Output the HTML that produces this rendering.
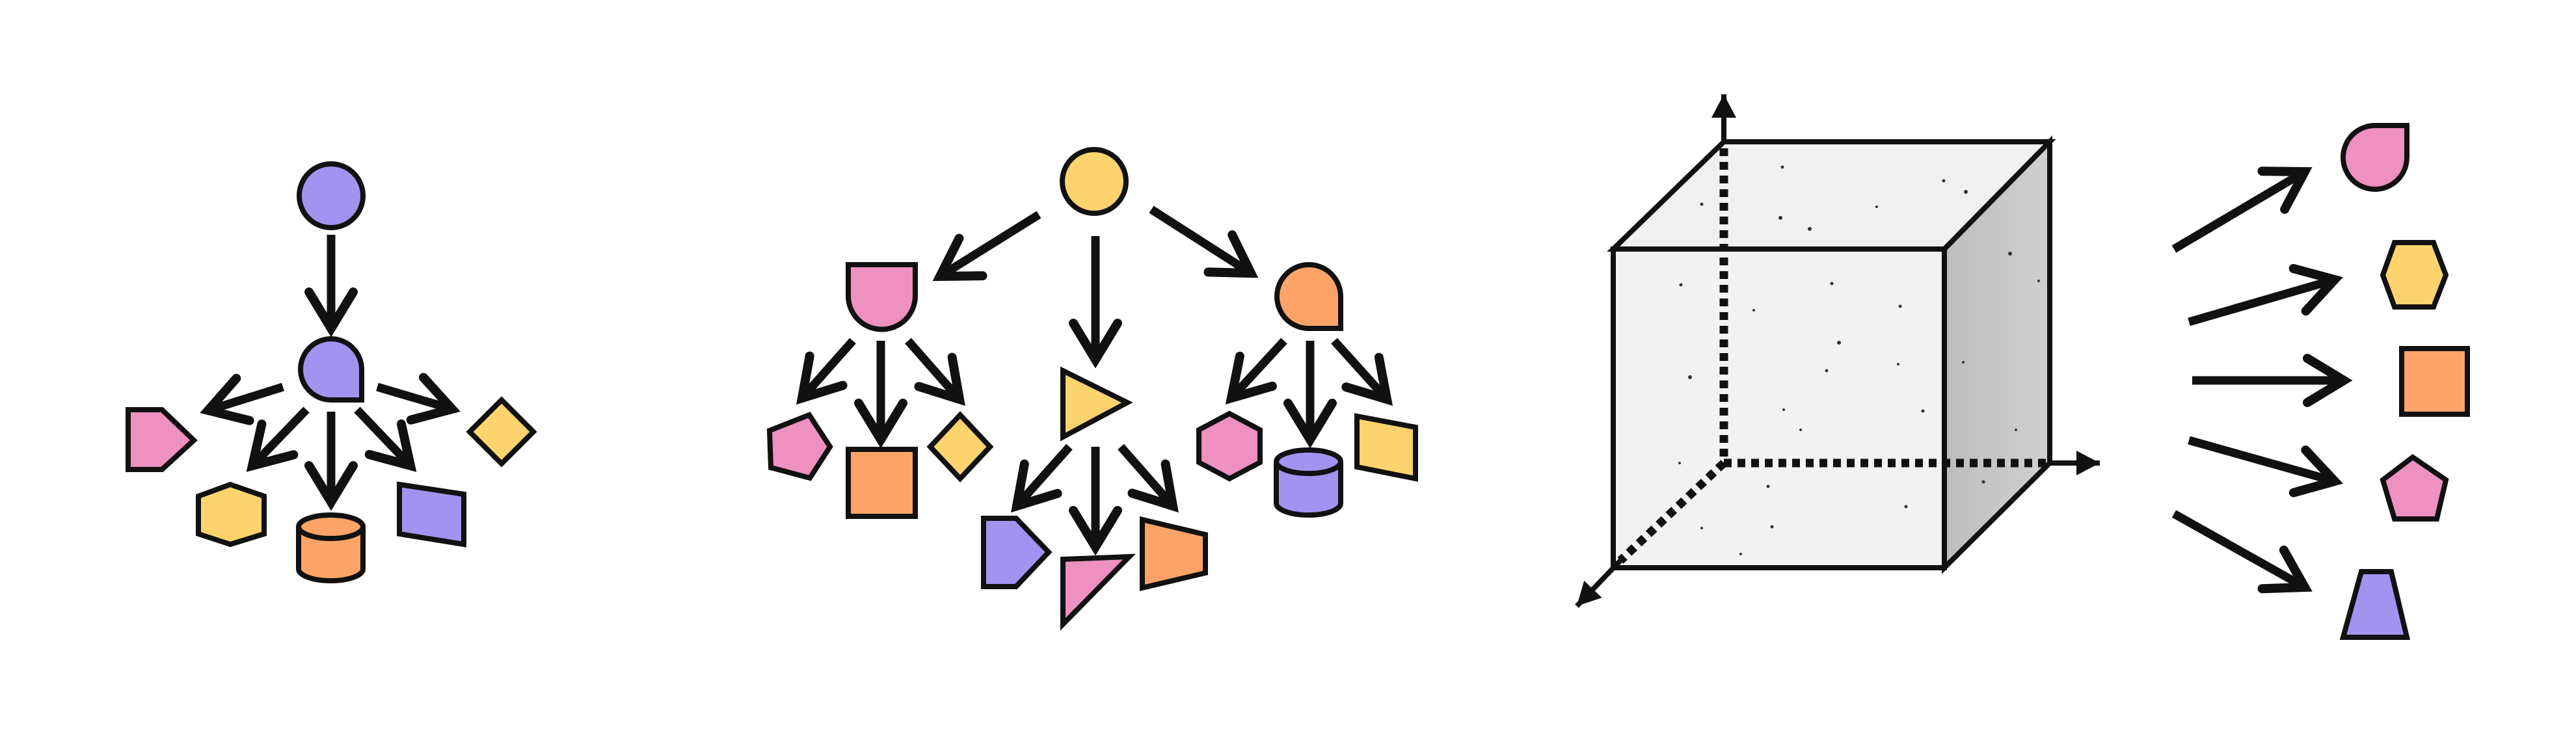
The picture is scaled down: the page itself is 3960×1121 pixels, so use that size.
<!DOCTYPE html>
<html><head><meta charset="utf-8"><style>html,body{margin:0;padding:0;background:#fff;}svg{display:block}</style></head>
<body>
<svg width="3960" height="1121" viewBox="0 0 3960 1121" xmlns="http://www.w3.org/2000/svg">
<defs>
<marker id="ah" markerUnits="userSpaceOnUse" viewBox="-75 -45 85 90" markerWidth="85" markerHeight="90" refX="0" refY="0" orient="auto" overflow="visible">
<path d="M-56,-34 L0,0 L-56,34" fill="none" stroke="#111" stroke-width="14" stroke-linecap="round" stroke-linejoin="miter"/>
</marker>
<marker id="sh" markerUnits="userSpaceOnUse" viewBox="-40 -25 50 50" markerWidth="50" markerHeight="50" refX="0" refY="0" orient="auto" overflow="visible">
<path d="M-36,-19 L0,0 L-36,19 Z" fill="#111"/>
</marker>
<linearGradient id="side" x1="0" y1="0" x2="1" y2="0"><stop offset="0" stop-color="#bdbdbd"/><stop offset="1" stop-color="#d0d0d0"/></linearGradient>
</defs>
<g stroke="#111" stroke-width="8" stroke-linejoin="miter">
<!-- Panel 1 -->
<circle cx="509" cy="301" r="49" fill="#a393f0"/>
<path d="M462,568 A47 47 0 0 1 556,568 L556,615 L509,615 A47 47 0 0 1 462,568 Z" fill="#a393f0"/>
<polygon points="197,630 249,630 298,677 249,722 197,722" fill="#ee90c0"/>
<polygon points="771,615 820,664 771,713 722,664" fill="#fdd36e"/>
<polygon points="305,763 354,745 406,763 406,821 354,837 305,821" fill="#fdd36e"/>
<path d="M459,810 L459,875 A49.5 18 0 0 0 558,875 L558,810" fill="#fca468"/>
<ellipse cx="508.5" cy="810" rx="49.5" ry="18" fill="#fca468"/>
<polygon points="614,745 713,760 713,837 614,821" fill="#a393f0"/>
<!-- Panel 2 -->
<circle cx="1682" cy="279" r="49" fill="#fdd36e"/>
<path d="M1304,407 L1407,407 L1407,455 A51.5 51.5 0 0 1 1304,455 Z" fill="#ee90c0"/>
<path d="M1963,456 A49 49 0 0 1 2061,456 L2061,505 L2012,505 A49 49 0 0 1 1963,456 Z" fill="#fca468"/>
<polygon points="1634,570 1733,619 1634,672" fill="#fdd36e"/>
<polygon points="1244,638 1276,687 1245,735 1185,719 1183,662" fill="#ee90c0"/>
<rect x="1304" y="691" width="103" height="103" fill="#fca468"/>
<polygon points="1476,638 1522,687 1476,736 1430,687" fill="#fdd36e"/>
<polygon points="1512,797 1562,797 1612,849 1562,902 1512,902" fill="#a393f0"/>
<polygon points="1634,860 1736,856 1634,960" fill="#ee90c0"/>
<polygon points="1756,799 1853,822 1853,881 1756,904" fill="#fca468"/>
<polygon points="1890,636 1937,661 1937,711 1890,736 1843,711 1843,661" fill="#ee90c0"/>
<path d="M1962,710 L1962,774 A49.5 18 0 0 0 2061,774 L2061,710" fill="#a393f0"/>
<ellipse cx="2011.5" cy="710" rx="49.5" ry="18" fill="#a393f0"/>
<polygon points="2086,640 2176,657 2176,736 2086,718" fill="#fdd36e"/>
<!-- Panel 3 shapes -->
<path d="M3651,193 L3700,193 L3700,242 A49 49 0 1 1 3651,193 Z" fill="#ee90c0"/>
<polygon points="3681,373 3741,373 3760,423 3741,472 3681,472 3663,423" fill="#fdd36e"/>
<rect x="3692" y="536" width="101" height="101" fill="#fca468"/>
<polygon points="3709,703 3760,738 3746,798 3681,798 3663,738" fill="#ee90c0"/>
<polygon points="3630,879 3676,879 3700,980 3602,980" fill="#a393f0"/>
</g>
<!-- arrows -->
<g stroke="#111" stroke-width="13" fill="none" marker-end="url(#ah)" stroke-linecap="butt">
<line x1="509" y1="361" x2="509" y2="505"/>
<line x1="435" y1="595" x2="320" y2="631"/>
<line x1="471" y1="630" x2="388" y2="716"/>
<line x1="509" y1="633" x2="509" y2="772"/>
<line x1="549" y1="630" x2="631" y2="716"/>
<line x1="580" y1="595" x2="695" y2="629"/>
<line x1="1597" y1="330" x2="1445" y2="425"/>
<line x1="1684" y1="363" x2="1684" y2="553"/>
<line x1="1770" y1="322" x2="1923" y2="420"/>
<line x1="1311" y1="524" x2="1233" y2="612"/>
<line x1="1354" y1="524" x2="1354" y2="676"/>
<line x1="1396" y1="524" x2="1475" y2="614"/>
<line x1="1644" y1="687" x2="1563" y2="778"/>
<line x1="1684" y1="687" x2="1684" y2="841"/>
<line x1="1723" y1="687" x2="1803" y2="778"/>
<line x1="1974" y1="524" x2="1893" y2="612"/>
<line x1="2014" y1="524" x2="2014" y2="676"/>
<line x1="2051" y1="524" x2="2132" y2="614"/>
<line x1="3342" y1="383" x2="3543" y2="264"/>
<line x1="3365" y1="495" x2="3589" y2="430"/>
<line x1="3370" y1="585" x2="3603" y2="585"/>
<line x1="3365" y1="677" x2="3589" y2="740"/>
<line x1="3342" y1="790" x2="3543" y2="903"/>
</g>
<!-- Cube -->
<g stroke="#111" stroke-width="8" stroke-linejoin="miter">
<polygon points="2480,383 2650,218 3151,218 2989,383" fill="#f0f0f0"/>
<polygon points="2989,383 3151,218 3151,712 2989,873" fill="url(#side)"/>
<rect x="2480" y="383" width="509" height="490" fill="#f2f2f2"/>
</g>
<g stroke="#111" stroke-width="13" stroke-dasharray="12 9" fill="none">
<line x1="2650" y1="228" x2="2650" y2="712"/>
<line x1="2650" y1="712" x2="3151" y2="712"/>
<line x1="2650" y1="712" x2="2491" y2="862"/>
</g>
<g stroke="#111" stroke-width="8" fill="none" marker-end="url(#sh)">
<line x1="2650" y1="218" x2="2650" y2="145"/>
<line x1="3151" y1="712" x2="3228" y2="712"/>
<line x1="2491" y1="862" x2="2424" y2="932"/>
</g>
<g fill="#333">
<circle cx="2740" cy="257" r="2.5"/><circle cx="2988" cy="278" r="2.5"/><circle cx="3022" cy="295" r="3"/><circle cx="2616" cy="314" r="2.5"/><circle cx="2885" cy="318" r="2"/><circle cx="2737" cy="335" r="3"/><circle cx="2782" cy="352" r="3"/><circle cx="3090" cy="390" r="3"/><circle cx="3134" cy="432" r="2"/><circle cx="2584" cy="438" r="2.5"/><circle cx="2816" cy="436" r="2.5"/><circle cx="2696" cy="477" r="2"/><circle cx="2921" cy="471" r="2.5"/><circle cx="2827" cy="527" r="3"/><circle cx="2918" cy="560" r="2"/><circle cx="3018" cy="557" r="2"/><circle cx="2598" cy="580" r="3"/><circle cx="2808" cy="570" r="2.5"/><circle cx="2742" cy="630" r="2"/><circle cx="2956" cy="632" r="2.5"/><circle cx="2768" cy="661" r="2"/><circle cx="3099" cy="661" r="2"/><circle cx="2582" cy="712" r="2"/><circle cx="2718" cy="748" r="2.5"/><circle cx="3049" cy="741" r="2.5"/><circle cx="2930" cy="779" r="2.5"/><circle cx="2616" cy="812" r="2"/><circle cx="2724" cy="810" r="2.5"/><circle cx="2676" cy="852" r="2"/>
</g>
</svg>
</body></html>
